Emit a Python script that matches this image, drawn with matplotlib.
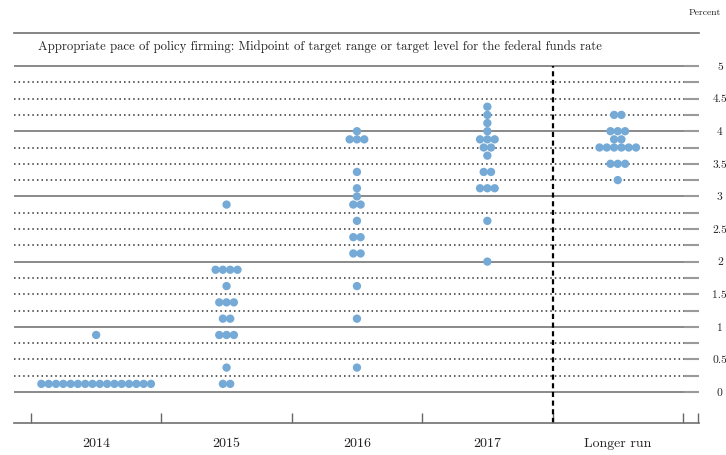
import numpy as np
import matplotlib
matplotlib.use("Agg")
import matplotlib.pyplot as plt

plt.rcParams['font.family'] = ['cmr10', 'DejaVu Serif']
plt.rcParams['axes.formatter.use_mathtext'] = True

# ---- data ----
categories = ['2014', '2015', '2016', '2017', 'Longer run']

levels_2014 = [0.125, 0.875]
counts_2014 = [16, 1]

levels_2015 = [0.125, 0.375, 0.875, 1.125, 1.375, 1.625, 1.875, 2.875]
counts_2015 = [2, 1, 3, 2, 3, 1, 4, 1]

levels_2016 = [0.375, 1.125, 1.625, 2.125, 2.375, 2.625, 2.875, 3.0, 3.125, 3.375, 3.875, 4.0]
counts_2016 = [1, 1, 1, 2, 2, 1, 2, 1, 1, 1, 3, 1]

levels_2017 = [2.0, 2.625, 3.125, 3.375, 3.625, 3.75, 3.875, 4.0, 4.125, 4.25, 4.375]
counts_2017 = [1, 1, 3, 2, 1, 2, 3, 1, 1, 1, 1]

levels_lr = [3.25, 3.5, 3.75, 3.875, 4.0, 4.25]
counts_lr = [1, 3, 6, 2, 3, 2]

ytick_values = [0, 0.5, 1, 1.5, 2, 2.5, 3, 3.5, 4, 4.5, 5]
title_text = 'Appropriate pace of policy firming: Midpoint of target range or target level for the federal funds rate'

columns = [(levels_2014, counts_2014), (levels_2015, counts_2015),
           (levels_2016, counts_2016), (levels_2017, counts_2017),
           (levels_lr, counts_lr)]

# ---- figure ----
W, H = 726, 455
fig = plt.figure(figsize=(W / 100, H / 100), dpi=100)
ax = fig.add_axes([14 / W, 32 / H, 685 / W, 390 / H])
ax.set_xlim(-0.630, 4.623)
ax.set_ylim(-0.475, 5.506)

# grid lines
for q in np.arange(0, 5.01, 0.25):
    if abs(q - round(q)) < 1e-9:
        ax.axhline(q, color='#6a6a6a', lw=1.1, zorder=1)
    else:
        ax.axhline(q, color='#333333', lw=1.1, ls=(0, (1.0, 2.0)), zorder=1)

# dashed separator
ax.vlines(3.5, -0.475, 5, colors='black', lw=1.6, linestyles=[(0, (2.3, 1.6))], zorder=2)

# dots
dx = 0.056
for ci, (levels, counts) in enumerate(columns):
    for lv, n in zip(levels, counts):
        xs = ci + (np.arange(n) - (n - 1) / 2) * dx
        ax.scatter(xs, [lv] * n, s=36, color='#75aad6', edgecolors='none', zorder=3)

# title inside
ax.text(-0.446, 5.30, title_text, fontsize=9.2, ha='left', va='center', color='#222222')

# spines
for s in ['left', 'right']:
    ax.spines[s].set_visible(False)
for s in ['top', 'bottom']:
    ax.spines[s].set_color('#707070')
    ax.spines[s].set_linewidth(1.2)

# y axis on right
ax.yaxis.tick_right()
ax.set_yticks(ytick_values)
ax.set_yticklabels([f'{v:g}' for v in ytick_values])
ax.set_yticks(np.arange(0.25, 5, 0.5), minor=True)
ax.tick_params(axis='y', which='both', direction='in', length=10.5, width=1.5,
               color='#9a9a9a', pad=15, labelsize=8.3, labelcolor='#222222')
for lab in ax.get_yticklabels():
    lab.set_horizontalalignment('center')

# x axis
bounds = [-0.5, 0.5, 1.5, 2.5, 3.5, 4.5, 4.615]
ax.set_xticks(bounds)
ax.set_xticklabels([''] * len(bounds))
ax.set_xticks(range(len(categories)), minor=True)
ax.set_xticklabels(categories, minor=True)
ax.tick_params(axis='x', which='major', direction='in', length=7.5, width=1.0, color='#666666')
ax.tick_params(axis='x', which='minor', length=0, pad=11, labelsize=10, labelcolor='#222222')

fig.text(705 / W, 1 - 13 / H, 'Percent', fontsize=7, ha='center', va='center', color='#222222')

fig.savefig('out.png', dpi=100)
